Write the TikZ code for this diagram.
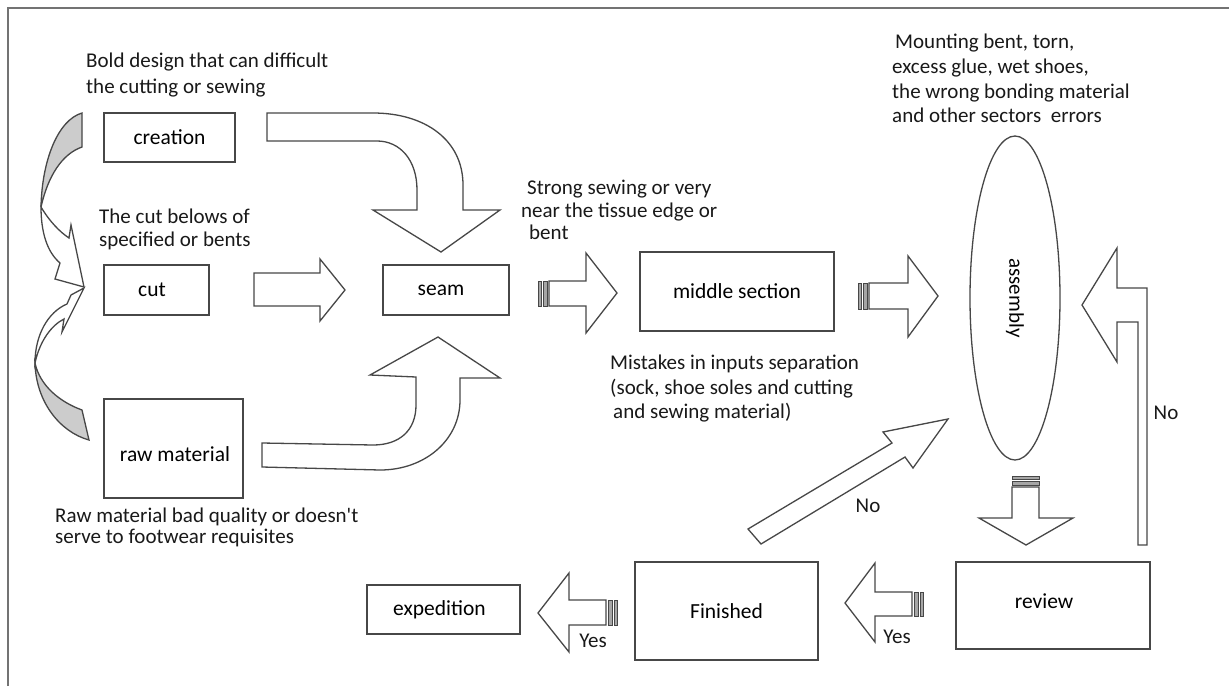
\documentclass[tikz,border=0pt]{standalone}
\usepackage{fontspec}
\setmainfont{Carlito}
\usetikzlibrary{shapes.geometric}
\begin{document}
\begin{tikzpicture}[x=1pt,y=-1pt,
  ln/.style={draw=black!72, line width=1.3pt, line join=miter},
  box/.style={ln, fill=white, rectangle, inner sep=0, font=\fontsize{21.5}{24}\selectfont},
  boxtext/.style={inner sep=0, font=\fontsize{21.5}{24}\selectfont},
  blk/.style={ln, fill=white},
  gry/.style={ln, fill=black!20},
  stripe/.style={ln, fill=black!35, line width=1pt},
  txt/.style={anchor=north west, inner sep=0, align=left, text=black!90},
  lbl/.style={inner sep=0, font=\fontsize{21}{24}\selectfont, text=black!90}
]
\useasboundingbox (0,0) rectangle (1229,686);
\fill[white] (0,0) rectangle (1229,686);
\draw[black!55, line width=2pt] (8,686) -- (8,8) -- (1229,8);

% boxes
\node[box, minimum width=131, minimum height=49] (creation) at (169.5,137.5) {creation};
\node[box, minimum width=105, minimum height=50] (cut) at (156.5,290) {\hspace*{-9pt}cut};
\node[box, minimum width=139, minimum height=99, label={[boxtext, xshift=1.5pt, yshift=-6pt]center:raw material}] (raw) at (173.5,448.5) {};
\node[box, minimum width=126, minimum height=50] (seam) at (446,290) {\hspace*{-10pt}seam};
\node[box, minimum width=194, minimum height=79] (middle) at (737,291.5) {middle section};
\node[box, minimum width=194, minimum height=87, label={[boxtext, xshift=-9pt, yshift=4pt]center:review}] (review) at (1053,605.5) {};
\node[box, minimum width=183, minimum height=98] (finished) at (726.5,611) {Finished};
\node[box, minimum width=153, minimum height=49] (expedition) at (443.5,609.5) {\hspace*{-8pt}expedition};
\node[ln, ellipse, rotate=-90, inner sep=0, minimum width=324, minimum height=90, font=\fontsize{21}{24}\selectfont] (assembly) at (1015,298) {assembly};

% left curved arrows
\draw[gry] (82,113) .. controls (58,120) and (42,160) .. (41,207) .. controls (48,176) and (62,154) .. (82,147) -- cycle;
\draw[gry] (35,363) .. controls (36,402) and (60,432) .. (89,440) -- (82,410) .. controls (60,402) and (40,386) .. (35,363) -- cycle;
\draw[blk] (41,207) .. controls (50,222) and (60,232) .. (69,238) -- (71,225) -- (84,287) -- (55,279) -- (60,263) .. controls (47,252) and (41,232) .. (41,207) -- cycle;
\draw[blk] (35,363) .. controls (35,335) and (48,312) .. (67,304) -- (71,295) -- (84,288) -- (62,332) -- (64,319) .. controls (52,325) and (40,340) .. (35,363) -- cycle;

% curved block arrows to seam
\draw[blk] (267,113) -- (373,113) .. controls (425,113) and (463,140) .. (463,185) -- (463,210) -- (500,210) -- (441,252) -- (373,210) -- (417,210) -- (417,190) .. controls (417,160) and (400,141) .. (377,141) -- (267,141) -- cycle;
\draw[blk] (262,443) -- (373,445) .. controls (400,445) and (416,430) .. (416,405) -- (416,377) -- (370,375) -- (438,337) -- (500,378) -- (460,378) -- (460,400) .. controls (460,440) and (425,470) .. (380,470) -- (262,467) -- cycle;

% cut -> seam
\draw[blk] (254,273) -- (320,273) -- (320,259) -- (345,290) -- (320,321) -- (320,306) -- (254,306) -- cycle;

% seam -> middle (striped)
\draw[stripe] (538,281) rectangle (541,306);
\draw[stripe] (543,281) rectangle (547,306);
\draw[blk] (549,281) -- (586,281) -- (586,253) -- (617,293) -- (586,333) -- (586,306) -- (549,306) -- cycle;

% middle -> assembly (striped)
\draw[stripe] (858,283) rectangle (861,309);
\draw[stripe] (863,283) rectangle (867,309);
\draw[blk] (869,283) -- (908,283) -- (908,256) -- (938,296) -- (908,337) -- (908,309) -- (869,309) -- cycle;

% assembly -> review (striped, down)
\draw[stripe] (1012,476) rectangle (1039,479);
\draw[stripe] (1012,481) rectangle (1039,485);
\draw[blk] (1012,487) -- (1012,518) -- (979,518) -- (1026,545) -- (1073,518) -- (1039,518) -- (1039,487) -- cycle;

% review -> finished (striped, left)
\draw[stripe] (920,592) rectangle (923,616);
\draw[stripe] (914,592) rectangle (918,616);
\draw[blk] (912,592) -- (875,592) -- (875,563) -- (845,603) -- (875,642) -- (875,616) -- (912,616) -- cycle;

% finished -> expedition (striped, left)
\draw[stripe] (614,600) rectangle (617,625);
\draw[stripe] (608,600) rectangle (612,625);
\draw[blk] (606,600) -- (569,600) -- (569,573) -- (538,613) -- (569,652) -- (569,625) -- (606,625) -- cycle;

% review -> assembly (No)
\draw[blk] (1147,545) -- (1147,288) -- (1117,288) -- (1117,248) -- (1082,305) -- (1117,362) -- (1117,322) -- (1138,322) -- (1138,545) -- cycle;

% finished -> assembly (No, diagonal)
\draw[blk] (748,529) -- (892,443) -- (883,432) -- (948,419) -- (913,468) -- (905,457) -- (761,544) -- cycle;

% texts
\node[txt, font=\fontsize{21}{26}\selectfont] (t1) at (86,53) {Bold design that can difficult\\the cutting or sewing};
\node[txt, font=\fontsize{21}{23}\selectfont] (t2) at (99,209) {The cut belows of\\specified or bents};
\node[txt, font=\fontsize{21}{21}\selectfont] (t3) at (55,508) {Raw material bad quality or doesn\textquotesingle t\\serve to footwear requisites};
\node[txt, font=\fontsize{21}{22.5}\selectfont] (t4) at (521,180) {\hspace*{6pt}Strong sewing or very\\near the tissue edge or\\\hspace*{8pt}bent};
\node[txt, font=\fontsize{21}{24.5}\selectfont] (t5) at (610,355) {Mistakes in inputs separation\\(sock, shoe soles and cutting\\\hspace*{3pt}and sewing material)};
\node[txt, font=\fontsize{21}{24.7}\selectfont] (t6) at (892,34) {\hspace*{3pt}Mounting bent, torn,\\excess glue, wet shoes,\\the wrong bonding material\\and other sectors\ \ errors};

\node[lbl] (no1) at (1166,413) {No};
\node[lbl] (no2) at (868,506) {No};
\node[lbl] (yes1) at (593,641) {Yes};
\node[lbl] (yes2) at (897,637) {Yes};
\end{tikzpicture}
\end{document}
